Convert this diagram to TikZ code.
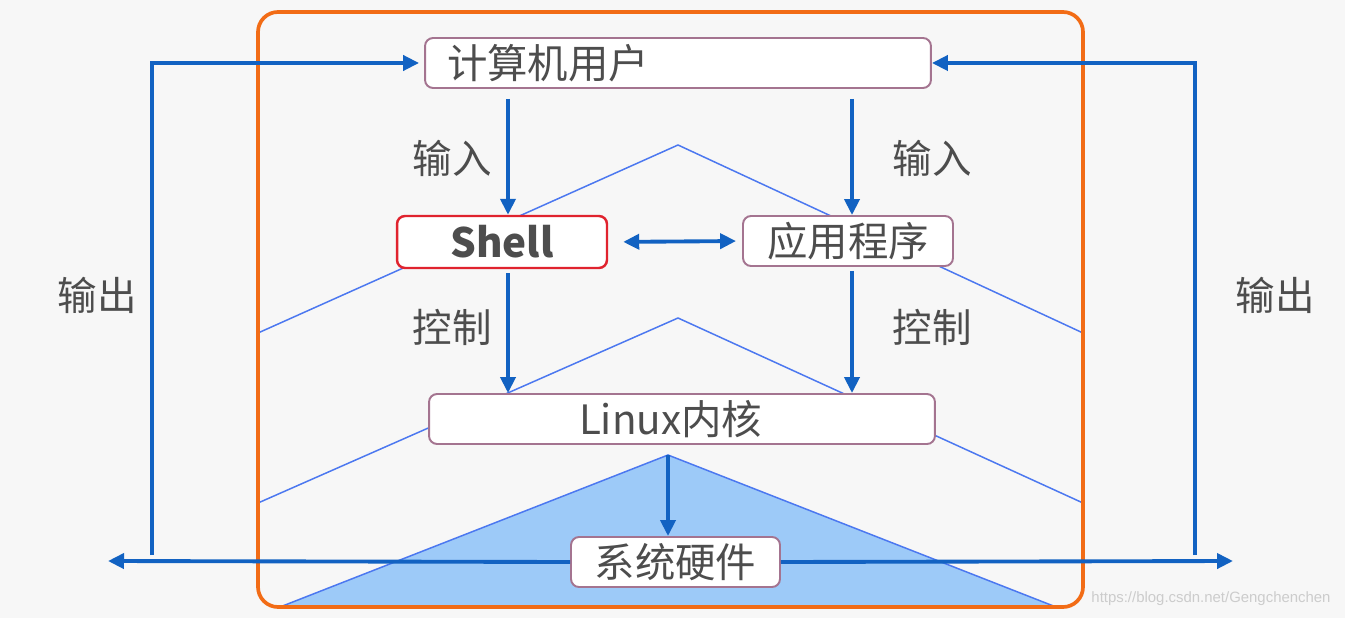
\documentclass[tikz,border=0pt]{standalone}
\usepackage{fontspec}
\setmainfont{Noto Sans CJK SC}
\newfontfamily\wmfont{Liberation Sans}
\usetikzlibrary{arrows.meta}
\definecolor{flowblue}{HTML}{1262C2}
\definecolor{lineblue}{HTML}{4C78F0}
\definecolor{triblue}{HTML}{9DCAF8}
\definecolor{frameorange}{HTML}{F26C16}
\definecolor{boxpurple}{HTML}{A47490}
\definecolor{shellred}{HTML}{E0232E}
\definecolor{textgray}{HTML}{4D4D4D}
\definecolor{bggray}{HTML}{F7F7F7}
\tikzset{
  layer/.style={draw=boxpurple, line width=1.1pt, fill=white, rounded corners=0.16cm,
    minimum height=1cm, inner ysep=0pt, text=textgray, font=\fontsize{23}{27}\selectfont},
  flow/.style={draw=flowblue, line width=2.2pt, -{Triangle[length=0.32cm,width=0.3cm]}},
  tag/.style={text=textgray, font=\fontsize{22.5}{26}\selectfont},
  chevron/.style={lineblue, line width=0.85pt},
}
\begin{document}
\begin{tikzpicture}[x=0.02cm, y=-0.02cm]
    % Hintergrund
    \fill[bggray] (0,0) rectangle (1345,618);
    \useasboundingbox (0,0) rectangle (1345,618);

    % Dreieck und Winkel
    \coordinate (apex) at (668,455);
    \fill[triblue] (280,607) -- (apex) -- (1056,607) -- cycle;
    \draw[chevron] (280,607) -- (apex) -- (1056,607);
    \draw[chevron] (258,333) -- (678,145) -- (1083,333);
    \draw[chevron] (258,503) -- (678,318) -- (1083,503);

    % Rahmen
    \draw[frameorange, line width=2.1pt, rounded corners=0.4cm] (258,12) rectangle (1083,607);

    % Schichten
    \node[layer, minimum width=10.12cm, text width=9.24cm, inner xsep=0.44cm, align=left]
        (user) at (678,63) {计算机用户};
    \node[layer, draw=shellred, line width=1.4pt, minimum width=4.2cm, minimum height=1.04cm,
        font=\fontsize{23}{27}\selectfont\bfseries] (shell) at (502,242) {Shell};
    \node[layer, minimum width=4.2cm] (app) at (848,241) {应用程序};
    \node[layer, minimum width=10.12cm, text width=4.12cm, inner xsep=3cm, align=left]
        (kernel) at (682,419) {Linux内核};
    \node[layer, minimum width=4.18cm] (hw) at (675.5,562) {系统硬件};

    % Pfeile zwischen den Schichten
    \coordinate (colL) at ([xshift=0.12cm]shell.north);
    \coordinate (colR) at ([xshift=0.08cm]app.north);
    \draw[flow] ([yshift=-0.2cm]user.south -| colL) -- (colL);
    \draw[flow] ([yshift=-0.2cm]user.south -| colR) -- (colR);
    \draw[flow] ([yshift=-0.08cm]shell.south -| colL) -- (colL |- kernel.north);
    \draw[flow] ([yshift=-0.08cm]app.south -| colR) -- (colR |- kernel.north);
    \draw[flow, {Triangle[length=0.32cm,width=0.3cm]}-{Triangle[length=0.32cm,width=0.3cm]},
        shorten <=0.3cm, shorten >=0.12cm] (shell.east) -- (app.west);
    \draw[flow] (apex) -- (apex |- hw.north);

    % Ausgabe
    \coordinate (outL) at (108,561);
    \coordinate (upL) at (152,555);
    \coordinate (outR) at (1233,561);
    \coordinate (upR) at (1195,555);
    \draw[flow] (hw.west) -- (outL);
    \draw[flow, shorten >=0.1cm] (upL) |- (user.west);
    \draw[flow] (hw.east) -- (outR);
    \draw[flow] (upR) |- (user.east);

    % Beschriftungen
    \node[tag] (inL) at (452,158) {输入};
    \node[tag] (inR) at (932,158) {输入};
    \node[tag] (ctlL) at (452,327) {控制};
    \node[tag] (ctlR) at (932,327) {控制};
    \node[tag] (outtxtL) at (97,295) {输出};
    \node[tag] (outtxtR) at (1275,295) {输出};

    \node[text=gray!40, font=\wmfont\fontsize{8.5}{10}\selectfont] (mark) at (1211,599)
        {https://blog.csdn.net/Gengchenchen};
\end{tikzpicture}
\end{document}
